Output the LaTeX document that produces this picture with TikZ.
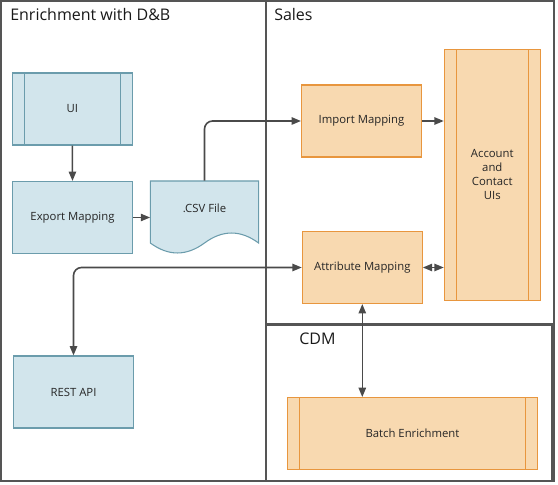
\documentclass[tikz,border=0pt]{standalone}
\usepackage{fontspec}
\setmainfont{Open Sans}
\usetikzlibrary{arrows.meta}
\definecolor{bluefill}{HTML}{D2E5EC}
\definecolor{blueline}{HTML}{6B9CAC}
\definecolor{orfill}{HTML}{F8D9B0}
\definecolor{orline}{HTML}{E8963E}
\definecolor{connc}{HTML}{4A4A4A}
\definecolor{framec}{HTML}{555555}
\begin{document}
\begin{tikzpicture}[x=0.75pt,y=-0.75pt,
  box/.style={draw, line width=0.8pt, minimum width=90pt, minimum height=54pt, inner sep=0pt,
    font=\fontsize{8.5}{10.5}\selectfont, text=black!85, align=center},
  bluebox/.style={box, draw=blueline, fill=bluefill},
  orbox/.style={box, draw=orline, fill=orfill},
  procbars/.style={path picture={\draw[line width=0.8pt, #1]
      ([xshift=9pt]path picture bounding box.north west) -- ([xshift=9pt]path picture bounding box.south west)
      ([xshift=-9pt]path picture bounding box.north east) -- ([xshift=-9pt]path picture bounding box.south east);}},
  conn/.style={draw=connc, line width=1.2pt, -{Triangle[length=7pt,width=5.5pt]}},
  dconn/.style={draw=connc, line width=1.2pt, {Triangle[length=7pt,width=5.5pt]}-{Triangle[length=7pt,width=5.5pt]}},
  lane/.style={draw=framec, line width=1.2pt},
  lanetitle/.style={anchor=west, font=\fontsize{12}{14}\selectfont, inner sep=0pt, text=black!90}]
\useasboundingbox (0,0) rectangle (558,485);

% lanes
\draw[lane] (1,1) rectangle (554,481);
\draw[lane] (266,1) rectangle (554,324);
\draw[draw=framec, line width=1pt] (266,325) rectangle (552,481);
\node[lanetitle] (t1) at (10,15) {Enrichment with D\&B};
\node[lanetitle] (t2) at (274,15) {Sales};
\node[lanetitle] (t3) at (299,339) {CDM};

% left lane
\node[bluebox, procbars=blueline] (ui) at (72.3,109) {UI};
\node[bluebox] (export) at (72.5,217.5) {Export Mapping};
\node[bluebox] (rest) at (73.5,392) {REST API};

% csv document shape
\fill[bluefill] (150.3,181) -- (258.6,181) -- (258.6,243)
  .. controls (240.5,229.7) and (222.5,229.7) .. (204.5,243)
  .. controls (186.4,256.3) and (168.4,256.3) .. (150.3,243) -- cycle;
\draw[blueline, line width=0.8pt] (150.3,181) -- (258.6,181) -- (258.6,243)
  .. controls (240.5,229.7) and (222.5,229.7) .. (204.5,243)
  .. controls (186.4,256.3) and (168.4,256.3) .. (150.3,243) -- cycle;
\node[font=\fontsize{8.5}{10.5}\selectfont, text=black!85, minimum width=81.2pt, minimum height=40.5pt, inner sep=0pt] (csv) at (204.5,208) {.CSV File};

% sales lane
\node[orbox] (import) at (361.5,121) {Import Mapping};
\node[orbox] (attr) at (362.3,267.5) {Attribute Mapping};
\node[orbox, procbars=orline, minimum width=72pt, minimum height=188.25pt] (acct) at (492.3,174.7) {Account\\and\\Contact\\UIs};

% CDM lane
\node[orbox, procbars=orline, minimum width=187.35pt] (batch) at (412.5,433.6) {Batch Enrichment};

% connectors
\draw[conn] (ui.south) -- (export.north);
\draw[conn] (export.east) -- (export.east -| csv.west);
\draw[conn, rounded corners=6pt] (csv.north) |- (import.west);
\draw[conn] (import.east) -- (import.east -| acct.west);
\draw[dconn] (attr.east) -- (attr.east -| acct.west);
\draw[dconn, rounded corners=6pt] (attr.west) -| (rest.north);
\draw[dconn] (attr.south) -- (attr.south |- batch.north);
\end{tikzpicture}
\end{document}
